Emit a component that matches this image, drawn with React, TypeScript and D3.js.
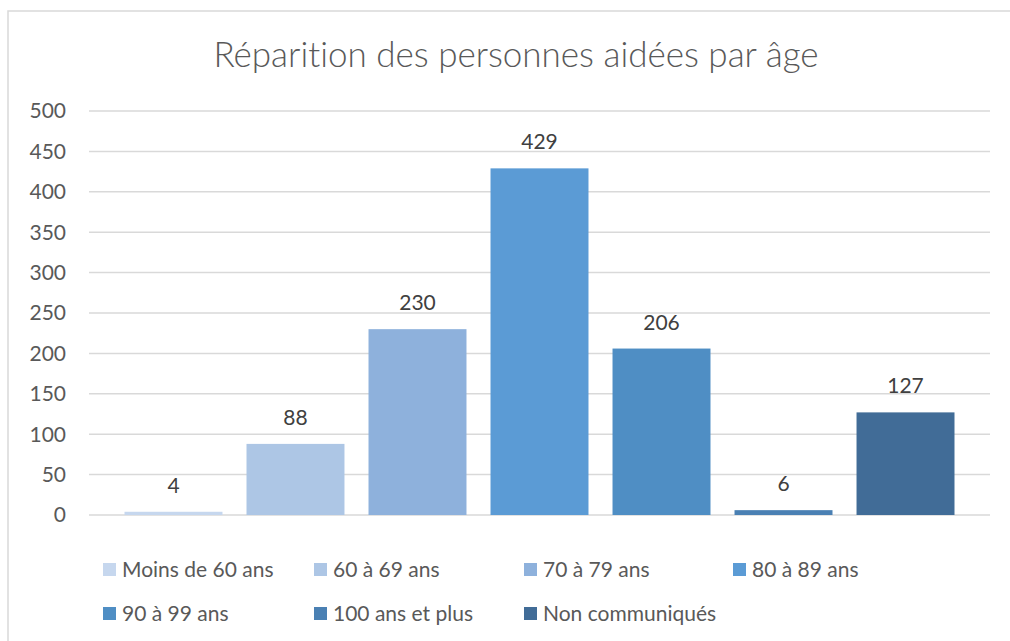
import React from 'react';
import * as d3 from 'd3';

const categories = ['Moins de 60 ans', '60 à 69 ans', '70 à 79 ans', '80 à 89 ans', '90 à 99 ans', '100 ans et plus', 'Non communiqués'];
const values = [4, 88, 230, 429, 206, 6, 127];
const colors = ['#c6d7ee', '#adc6e5', '#8eb1dc', '#5b9bd5', '#4f8ec4', '#4a80b3', '#416c97'];
const yTicks = [0, 50, 100, 150, 200, 250, 300, 350, 400, 450, 500];

const W = 1010;
const H = 641;
const font = 'Lato, "Open Sans", sans-serif';

export default function App() {
  const left = 89, right = 990, top = 111, bottom = 515;

  const x = d3.scaleBand<string>()
    .domain(categories)
    .range([left, right])
    .paddingInner(0.197)
    .paddingOuter(0.291);

  const y = d3.scaleLinear().domain([0, 500]).range([bottom, top]);

  // legend layout: 4 per row
  const legendX = [103, 314, 524, 733];
  const legendY = [570, 614];

  return (
    <svg width={W} height={H} style={{ position: 'absolute', left: 0, top: 0, background: '#fff', fontVariantLigatures: 'none' }}>
      <rect x={8} y={11} width={W} height={H} fill="#fff" stroke="#d9d9d9" strokeWidth={1.5} />
      <text x={516} y={67} textAnchor="middle" fontFamily={font} fontSize={35} fontWeight={300} fill="#595959">
        Réparition des personnes aidées par âge
      </text>
      {yTicks.map(t => (
        <g key={t}>
          <line x1={left} x2={right} y1={y(t)} y2={y(t)} stroke="#d9d9d9" strokeWidth={1.5} />
          <text x={66} y={y(t)} dy="0.35em" textAnchor="end" fontFamily={font} fontSize={21} fill="#595959">{t}</text>
        </g>
      ))}
      {categories.map((c, i) => (
        <g key={c}>
          <rect x={x(c)} y={y(values[i])} width={x.bandwidth()} height={bottom - y(values[i])} fill={colors[i]} />
          <text x={(x(c) as number) + x.bandwidth() / 2} y={y(values[i]) - 19} textAnchor="middle" fontFamily={font} fontSize={21} fill="#404040">
            {values[i]}
          </text>
        </g>
      ))}
      {categories.map((c, i) => {
        const lx = legendX[i % 4];
        const ly = legendY[Math.floor(i / 4)];
        return (
          <g key={'l' + c}>
            <rect x={lx} y={ly - 7} width={13} height={13} fill={colors[i]} />
            <text x={lx + 19} y={ly} dy="0.35em" fontFamily={font} fontSize={21} fill="#595959">{c}</text>
          </g>
        );
      })}
    </svg>
  );
}
